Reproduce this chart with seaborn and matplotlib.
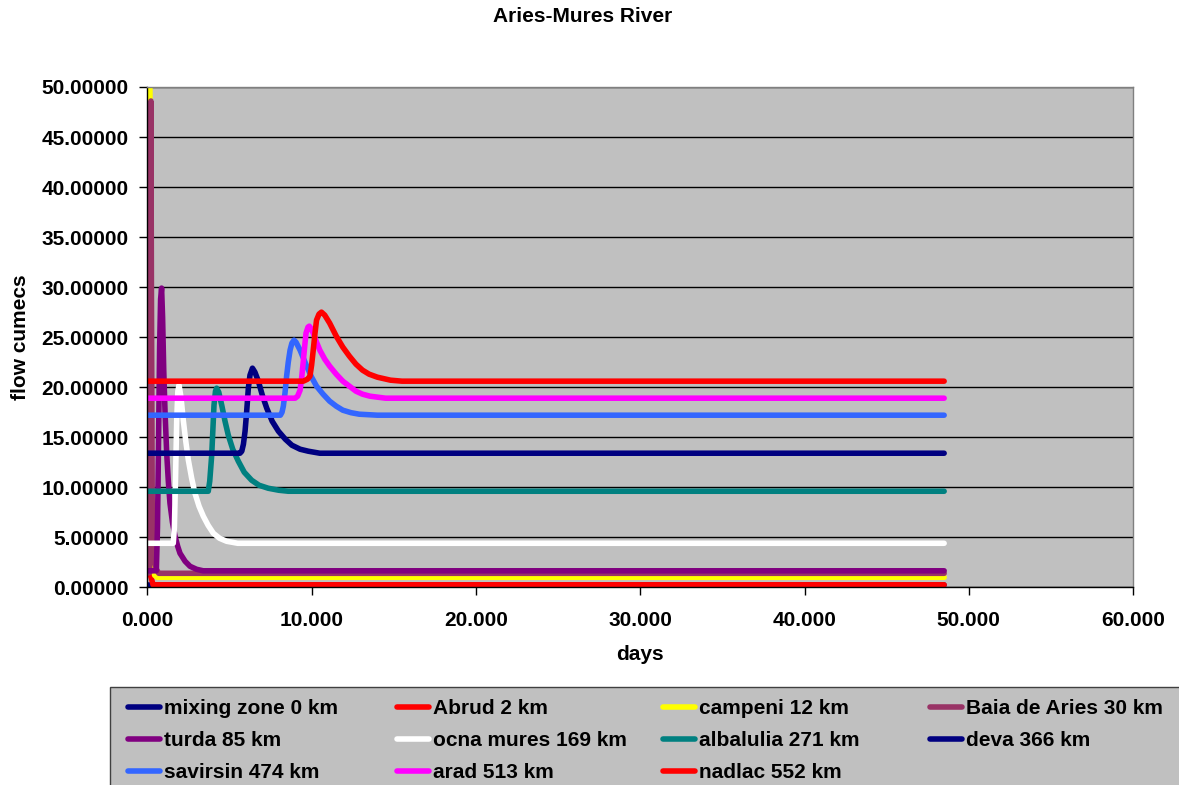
import matplotlib
matplotlib.use("Agg")
import matplotlib.pyplot as plt
from matplotlib.lines import Line2D
from matplotlib.patches import Rectangle
from matplotlib.font_manager import FontProperties
from matplotlib.ticker import FormatStrFormatter, MultipleLocator
import pandas as pd
import seaborn as sns

# Station names (legend order, row by row)
stations = [
    "mixing zone 0 km", "Abrud 2 km", "campeni 12 km", "Baia de Aries 30 km",
    "turda 85 km", "ocna mures 169 km", "albalulia 271 km", "deva 366 km",
    "savirsin 474 km", "arad 513 km", "nadlac 552 km",
]
colors = [
    "#000080", "#FF0000", "#FFFF00", "#993366",
    "#800080", "#FFFFFF", "#008080", "#000080",
    "#3366FF", "#FF00FF", "#FF0000",
]

# Flow (cumecs) against time (days) at each station
mixing_t = [0, 48.5]
mixing_q = [0.2, 0.2]

abrud_t = [0, 0.2, 0.35, 48.5]
abrud_q = [1.3, 1.2, 0.25, 0.25]

campeni_t = [0, 0.15, 0.2, 0.27, 0.35, 0.45, 0.6, 48.5]
campeni_q = [62.0, 60.0, 12.0, 4.0, 2.0, 1.2, 1.0, 1.0]

baia_t = [0, 0.15, 0.19, 0.22, 0.25, 0.3, 0.4, 0.55, 0.7, 48.5]
baia_q = [1.4, 1.5, 30.0, 48.6, 30.0, 8.0, 3.0, 1.8, 1.4, 1.4]

turda_t = [0, 0.55, 0.62, 0.68, 0.75, 0.81, 0.87, 0.93, 1.0, 1.08, 1.18, 1.28, 1.38,
           1.53, 1.69, 1.85, 1.99, 2.3, 2.6, 3.0, 3.4, 48.5]
turda_q = [1.65, 1.65, 6.0, 14.0, 24.0, 28.8, 29.9, 27.0, 21.7, 17.5, 13.4, 10.6, 8.4,
           6.5, 5.1, 4.1, 3.4, 2.6, 2.1, 1.8, 1.65, 1.65]

ocna_t = [0, 1.58, 1.65, 1.72, 1.79, 1.86, 1.93, 2.05, 2.19, 2.35, 2.5, 2.7, 2.9, 3.15,
          3.41, 3.7, 4.02, 4.4, 4.83, 5.5, 48.5]
ocna_q = [4.4, 4.4, 6.0, 11.0, 16.7, 19.6, 20.2, 19.0, 16.7, 14.5, 12.7, 10.9, 9.4, 8.1,
          7.1, 6.2, 5.4, 4.9, 4.6, 4.4, 4.4]

alba_t = [0, 3.71, 3.8, 3.92, 4.06, 4.15, 4.22, 4.35, 4.53, 4.73, 4.93, 5.2, 5.54, 5.9,
          6.35, 6.8, 7.36, 8.0, 8.58, 48.5]
alba_q = [9.6, 9.6, 10.6, 13.2, 18.2, 19.6, 19.9, 19.5, 18.2, 16.6, 15.2, 13.8, 12.6, 11.5,
          10.7, 10.2, 9.9, 9.7, 9.6, 9.6]

deva_t = [0, 5.64, 5.75, 5.85, 5.95, 6.05, 6.15, 6.25, 6.4, 6.55, 6.76, 7.0, 7.27, 7.6,
          7.98, 8.4, 8.8, 9.3, 9.8, 10.5, 48.5]
deva_q = [13.4, 13.4, 13.6, 14.3, 15.6, 17.6, 19.9, 21.2, 21.9, 21.5, 20.6, 19.2, 17.9, 16.6,
          15.6, 14.8, 14.2, 13.8, 13.6, 13.4, 13.4]

savirsin_t = [0, 8.1, 8.2, 8.28, 8.38, 8.48, 8.58, 8.69, 8.8, 8.93, 9.05, 9.3, 9.5, 9.7,
              10.0, 10.3, 10.7, 11.1, 11.5, 11.9, 12.4, 12.9, 14.0, 48.5]
savirsin_q = [17.2, 17.2, 17.5, 18.1, 19.4, 21.1, 22.5, 23.7, 24.4, 24.7, 24.5, 23.7, 22.9, 22.1,
              21.0, 20.1, 19.3, 18.6, 18.1, 17.7, 17.45, 17.3, 17.2, 17.2]

arad_t = [0, 9.0, 9.15, 9.3, 9.4, 9.5, 9.58, 9.66, 9.78, 9.86, 9.95, 10.1, 10.3, 10.5,
          10.8, 11.1, 11.5, 11.9, 12.3, 12.7, 13.1, 13.55, 14.5, 48.5]
arad_q = [18.9, 18.9, 19.1, 19.7, 21.0, 22.7, 24.1, 25.4, 26.0, 26.1, 25.9, 25.4, 24.5, 23.7,
          22.8, 22.1, 21.3, 20.6, 20.1, 19.6, 19.3, 19.1, 18.9, 18.9]

nadlac_t = [0, 9.5, 9.75, 9.9, 10.0, 10.1, 10.2, 10.3, 10.45, 10.6, 10.8, 11.1, 11.5, 11.9,
            12.3, 12.7, 13.1, 13.5, 14.0, 14.8, 15.5, 48.5]
nadlac_q = [20.6, 20.6, 20.8, 21.1, 22.2, 23.7, 25.3, 26.7, 27.3, 27.5, 27.2, 26.4, 25.1, 24.0,
            23.1, 22.3, 21.7, 21.3, 21.0, 20.7, 20.6, 20.6]

series = [
    (mixing_t, mixing_q), (abrud_t, abrud_q), (campeni_t, campeni_q), (baia_t, baia_q),
    (turda_t, turda_q), (ocna_t, ocna_q), (alba_t, alba_q), (deva_t, deva_q),
    (savirsin_t, savirsin_q), (arad_t, arad_q), (nadlac_t, nadlac_q),
]

rows = []
for name, (ts, qs) in zip(stations, series):
    for t, q in zip(ts, qs):
        rows.append({"station": name, "days": t, "flow": q})
df = pd.DataFrame(rows)

plt.rcParams["font.family"] = ["Liberation Sans", "DejaVu Sans"]
plt.rcParams["font.weight"] = "bold"
FS = 15
LW = 4.0

fig = plt.figure(figsize=(11.79, 7.85), dpi=100)
fig.patch.set_facecolor("white")
ax = fig.add_axes([147.3 / 1179, 1 - 587.3 / 785, (1133.1 - 147.3) / 1179, (587.3 - 87) / 785])
ax.set_facecolor("#C0C0C0")

# Each station drawn in turn so later ones sit on top
for name, col in zip(stations, colors):
    sub = df[df["station"] == name]
    sns.lineplot(data=sub, x="days", y="flow", color=col, estimator=None, sort=False,
                 linewidth=LW, legend=False, ax=ax)
for ln in ax.lines:
    ln.set_solid_capstyle("round")
    ln.set_solid_joinstyle("round")

ax.set_xlim(0, 60)
ax.set_ylim(0, 50)
ax.xaxis.set_major_locator(MultipleLocator(10))
ax.yaxis.set_major_locator(MultipleLocator(5))
ax.xaxis.set_major_formatter(FormatStrFormatter("%.3f"))
ax.yaxis.set_major_formatter(FormatStrFormatter("%.5f"))
ax.yaxis.grid(True, color="black", linewidth=1.0)
ax.xaxis.grid(False)
ax.set_axisbelow(True)

for side in ("top", "right"):
    ax.spines[side].set_color("#808080")
    ax.spines[side].set_linewidth(1.0)
for side in ("left", "bottom"):
    ax.spines[side].set_color("black")
    ax.spines[side].set_linewidth(1.0)

ax.tick_params(axis="y", direction="out", length=6, width=1, pad=7.5, labelsize=FS, colors="black")
ax.tick_params(axis="x", direction="out", length=6, width=1, pad=11, labelsize=FS, colors="black")
for lab in ax.get_xticklabels() + ax.get_yticklabels():
    lab.set_fontweight("bold")

ax.set_xlabel("days", fontsize=FS, fontweight="bold", labelpad=11)
ax.set_ylabel("flow cumecs", fontsize=FS, fontweight="bold", labelpad=8)
fig.text(583 / 1179, 1 - 17 / 785, "Aries-Mures River", ha="center", va="center",
         fontsize=FS, fontweight="bold")

# Legend panel
fig.patches.append(Rectangle((110 / 1179, -0.05), 1.0, (785 - 687) / 785 + 0.05,
                             transform=fig.transFigure, facecolor="#C0C0C0",
                             edgecolor="#404040", linewidth=1.0, zorder=0))

handles = [Line2D([0], [0], color=c, linewidth=LW, solid_capstyle="round") for c in colors]
col_x = [128, 396.5, 663, 930]
prop = FontProperties(family=["Liberation Sans", "DejaVu Sans"], weight="bold", size=FS)
for c, x0 in enumerate(col_x):
    idx = [i for i in (c, c + 4, c + 8) if i < len(stations)]
    fig.legend([handles[i] for i in idx], [stations[i] for i in idx],
               loc="upper left", bbox_to_anchor=(x0 / 1179, 1 - 699 / 785),
               bbox_transform=fig.transFigure, frameon=False, borderpad=0,
               borderaxespad=0, handlelength=1.55, handletextpad=0.2,
               labelspacing=0.62, prop=prop)

fig.savefig("out.png", dpi=100)
